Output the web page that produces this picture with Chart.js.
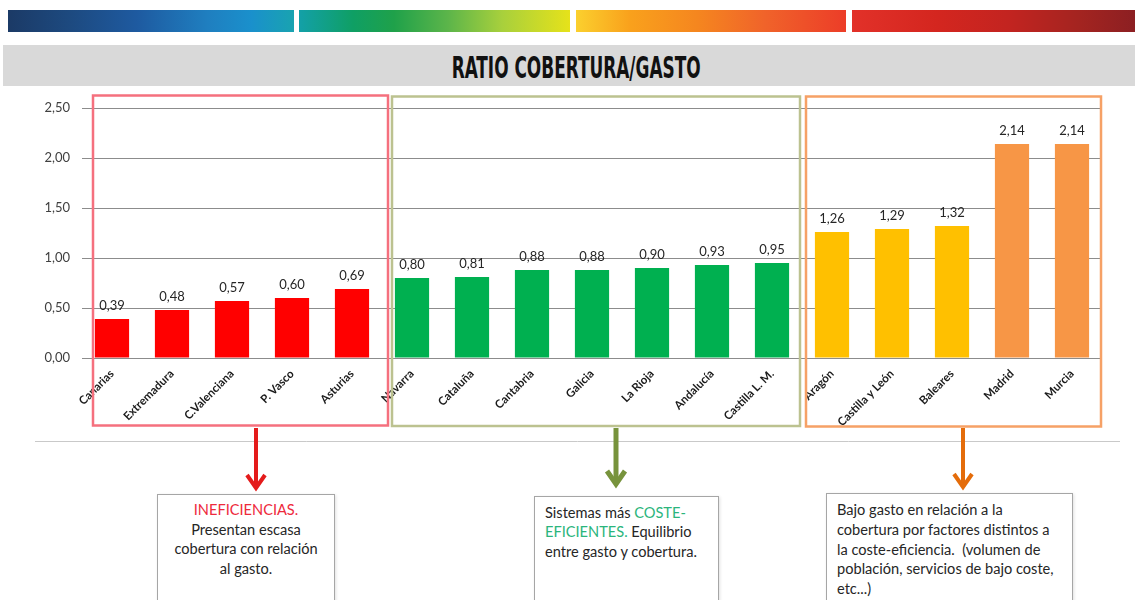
<!DOCTYPE html>
<html><head><meta charset="utf-8">
<script src="https://cdn.jsdelivr.net/npm/chart.js@4.4.1/dist/chart.umd.min.js"></script>
<style>
html,body{margin:0;padding:0;background:#fff;width:1135px;height:600px;overflow:hidden;font-family:Lato,sans-serif}
.grad{position:absolute;top:10px;height:22px}
#title{position:absolute;left:3px;top:45px;width:1132px;height:41px;background:#d9d9d9;display:flex;align-items:center;justify-content:center;}
#title span{display:inline-block;font-family:"DejaVu Sans Condensed","DejaVu Sans",sans-serif;font-weight:bold;font-size:31px;color:#111;transform-origin:center;white-space:nowrap;position:relative;left:7px;top:1px}
.note{position:absolute;border:1px solid #a6a6a6;background:#fff;font-size:14.6px;color:#262626;line-height:19.7px;box-shadow:1px 1px 3px rgba(0,0,0,0.12);box-sizing:border-box}
#cv{position:absolute;left:0;top:0}
</style></head>
<body>
<div class="grad" style="left:8px;width:286px;background:linear-gradient(90deg,#1b3a66 0%,#1d4a80 22%,#1e5aa0 45%,#1f7fc0 70%,#1a90cc 85%,#19a3b0 100%)"></div>
<div class="grad" style="left:299px;width:271px;background:linear-gradient(90deg,#13a0a8 0%,#0f9f64 20%,#1fa14a 35%,#5cb54a 55%,#a8d03c 75%,#e6e21a 100%)"></div>
<div class="grad" style="left:576px;width:270px;background:linear-gradient(90deg,#fbd02e 0%,#f9a11c 20%,#f5861f 45%,#f0632a 70%,#ec3d28 100%)"></div>
<div class="grad" style="left:852px;width:283px;background:linear-gradient(90deg,#e23129 0%,#d4261f 30%,#c32420 55%,#a42420 80%,#8c1f22 100%)"></div>
<div id="title"><span id="tt">RATIO COBERTURA/GASTO</span></div>

<div class="note" style="left:157px;top:494px;width:178px;height:120px;text-align:center;padding-top:5px">
<span style="color:#ee2a3c">INEFICIENCIAS.</span><br>Presentan escasa<br>cobertura con relación<br>al gasto.</div>
<div class="note" style="left:534px;top:496px;width:185px;height:120px;padding:6px 0 0 10px;line-height:19.3px">
Sistemas más <span style="color:#2bb57c">COSTE-<br>EFICIENTES.</span> Equilibrio<br>entre gasto y cobertura.</div>
<div class="note" style="left:826px;top:493px;width:247px;height:120px;padding:6px 0 0 10px;line-height:19.8px">
Bajo gasto en relación a la<br>cobertura por factores distintos a<br>la coste-eficiencia.&nbsp; (volumen de<br>población, servicios de bajo coste,<br>etc...)</div>

<canvas id="cv" width="1135" height="600"></canvas>
<script>
// ---- data ----
const regions = ['Canarias','Extremadura','C.Valenciana','P. Vasco','Asturias','Navarra','Cataluña','Cantabria','Galicia','La Rioja','Andalucía','Castilla L. M.','Aragón','Castilla y León','Baleares','Madrid','Murcia'];
const ratios  = [0.39,0.48,0.57,0.60,0.69,0.80,0.81,0.88,0.88,0.90,0.93,0.95,1.26,1.29,1.32,2.14,2.14];
const yTicks  = [0,0.5,1,1.5,2,2.5];
// group of each region: 0 ineficiencias, 1 coste-eficientes, 2 bajo gasto, 3 bajo gasto (alto)
const regionGroup = [0,0,0,0,0,1,1,1,1,1,1,1,2,2,2,3,3];

// ---- styles ----
const groupColors = ['#ff0000','#00b050','#ffc000','#f79646'];
const fmt = v => v.toFixed(2).replace('.', ',');

// title condensing
(function(){const s=document.getElementById('tt');const w=s.getBoundingClientRect().width;s.style.transform='scaleX('+(249/w)+')';})();

const valueLabels = {
  id:'valueLabels',
  afterDatasetsDraw(chart){
    const ctx=chart.ctx; const meta=chart.getDatasetMeta(0);
    ctx.save(); ctx.font='13px Lato'; ctx.fillStyle='#262626'; ctx.textAlign='center'; ctx.textBaseline='alphabetic';
    meta.data.forEach((bar,i)=>{ ctx.fillText(fmt(ratios[i]), bar.x, bar.y-9); });
    ctx.restore();
  }
};

const decorations = {
  id:'decorations',
  afterDraw(chart){
    const ctx=chart.ctx; const xs=chart.scales.x; const X=i=>xs.getPixelForValue(i);
    ctx.save();
    // group boxes
    const boxes=[
      {l:X(0)-19,r:X(4)+36,top:95.5,bot:425.5,c:'#f5707e'},
      {l:X(5)-20,r:X(11)+28,top:96.5,bot:426,c:'#bcc290'},
      {l:X(12)-26,r:X(16)+29,top:96.5,bot:426.5,c:'#f6a166'}
    ];
    boxes.forEach(b=>{ctx.strokeStyle=b.c;ctx.lineWidth=2.5;ctx.strokeRect(b.l,b.top,b.r-b.l,b.bot-b.top);});
    // separator
    ctx.strokeStyle='#c9c9c9';ctx.lineWidth=1;ctx.beginPath();ctx.moveTo(35,441.5);ctx.lineTo(1120,441.5);ctx.stroke();
    // arrows
    const arrows=[
      {x:X(2)+24,y0:428,tip:491,c:'#e41b1b',w:4},
      {x:X(8)+24,y0:428,tip:487,c:'#77933c',w:5},
      {x:X(14)+11,y0:428,tip:490,c:'#e46c0a',w:4}
    ];
    arrows.forEach(a=>{
      ctx.strokeStyle=a.c;ctx.lineWidth=a.w;ctx.lineJoin='miter';ctx.lineCap='butt';
      ctx.beginPath();ctx.moveTo(a.x,a.y0);ctx.lineTo(a.x,a.tip-3);ctx.stroke();
      ctx.beginPath();ctx.moveTo(a.x-9,a.tip-16);ctx.lineTo(a.x,a.tip-3);ctx.lineTo(a.x+9,a.tip-16);ctx.stroke();
    });
    ctx.restore();
  }
};

new Chart(document.getElementById('cv'),{
  type:'bar',
  data:{labels:regions,datasets:[{data:ratios,backgroundColor:regionGroup.map(g=>groupColors[g]),barPercentage:0.57,categoryPercentage:1}]},
  options:{
    responsive:false,animation:false,
    layout:{padding:{left:0,right:33,top:108,bottom:162}},
    plugins:{legend:{display:false},tooltip:{enabled:false}},
    scales:{
      x:{grid:{display:false},border:{display:false},
         ticks:{autoSkip:false,minRotation:45,maxRotation:45,padding:1,color:'#1a1a1a',font:{family:'Lato',weight:'bold',size:11.5}},
         afterFit(s){s.height=80;}},
      y:{min:0,max:2.5,border:{display:false},
         grid:{color:'#8c8c8c',lineWidth:1,drawTicks:false},
         afterBuildTicks(s){s.ticks=yTicks.map(v=>({value:v}));},
         ticks:{padding:12,color:'#404040',font:{family:'Lato',size:13},callback:v=>fmt(v)},
         afterFit(s){s.width=82;}}
    }
  },
  plugins:[valueLabels,decorations]
});
</script>
</body></html>
